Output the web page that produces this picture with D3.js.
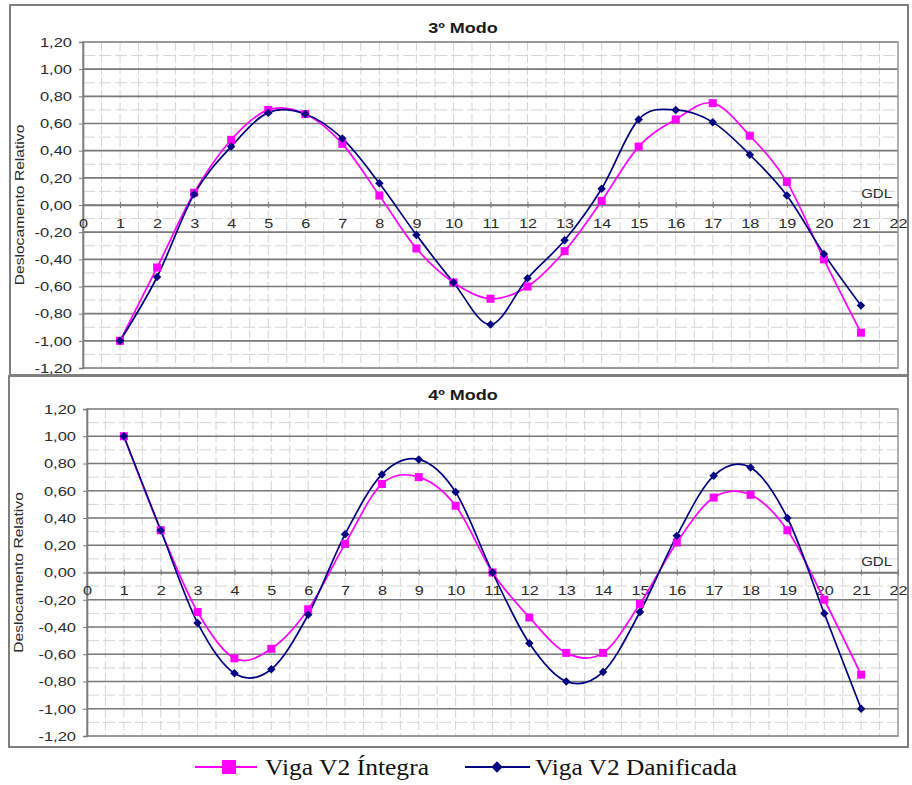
<!DOCTYPE html>
<html>
<head>
  <title>Modos</title>
  <script src="https://cdn.jsdelivr.net/npm/d3@7"></script>
  <style>
    body { margin: 0; background: #fff; }
  </style>
</head>
<body>
  <svg width="912" height="785" id="mainsvg"></svg>
  <script>
    const svg = d3.select('#mainsvg');
    const sans = 'Arial, "Liberation Sans", sans-serif';
    const serif = '"Liberation Serif", "Times New Roman", serif';

    // dados
    const gdl = d3.range(1, 22);
    const modo3Integra = [-1.00, -0.46, 0.09, 0.48, 0.70, 0.67, 0.45, 0.07, -0.32, -0.57, -0.69,
      -0.60, -0.34, 0.03, 0.43, 0.63, 0.75, 0.51, 0.17, -0.40, -0.94];
    const modo3Danificada = [-1.00, -0.53, 0.08, 0.43, 0.68, 0.67, 0.49, 0.16, -0.22, -0.57, -0.88,
      -0.54, -0.26, 0.12, 0.63, 0.70, 0.61, 0.37, 0.07, -0.36, -0.74];
    const modo4Integra = [1.00, 0.31, -0.29, -0.63, -0.56, -0.27, 0.21, 0.65, 0.70, 0.49, 0.00,
      -0.33, -0.59, -0.59, -0.23, 0.22, 0.55, 0.57, 0.31, -0.20, -0.75];
    const modo4Danificada = [1.00, 0.31, -0.37, -0.74, -0.71, -0.31, 0.28, 0.72, 0.83, 0.59, 0.00,
      -0.52, -0.80, -0.73, -0.29, 0.27, 0.71, 0.77, 0.40, -0.30, -1.00];
    const xTicks = d3.range(0, 23);
    const yTicks = d3.range(-1.2, 1.21, 0.2);
    const seriesNames = ['Viga V2 Íntegra', 'Viga V2 Danificada'];
    const colors = ['#ff00ff', '#000080'];

    const fmt = v => {
      const a = Math.abs(v) < 1e-9 ? 0 : v;
      return (a < 0 ? '-' : '') + Math.abs(a).toFixed(2).replace('.', ',');
    };

    // a imagem original esta esticada na horizontal
    function widen(sel, f) {
      sel.each(function () {
        const w = this.getComputedTextLength();
        d3.select(this).attr('textLength', w * f).attr('lengthAdjust', 'spacingAndGlyphs');
      });
    }

    function drawPanel(p) {
      // moldura
      svg.append('rect')
        .attr('x', p.frame[0]).attr('y', p.frame[1])
        .attr('width', p.frame[2]).attr('height', p.frame[3])
        .attr('fill', '#fff').attr('stroke', '#7f7f7f').attr('stroke-width', 2);

      const x = d3.scaleLinear().domain([0, 22]).range([p.left, p.right]);
      const y = d3.scaleLinear().domain([-1.2, 1.2]).range([p.bottom, p.top]);
      const g = svg.append('g');

      // grade secundaria
      g.selectAll('.minorv').data(d3.range(0, 22.01, 0.5)).join('line')
        .attr('x1', d => x(d)).attr('x2', d => x(d))
        .attr('y1', p.top).attr('y2', p.bottom)
        .attr('stroke', '#d4d4d4').attr('stroke-dasharray', '9,3');
      g.selectAll('.minorh').data(d3.range(-1.2, 1.21, 0.1)).join('line')
        .attr('x1', p.left).attr('x2', p.right)
        .attr('y1', d => y(d)).attr('y2', d => y(d))
        .attr('stroke', '#d4d4d4').attr('stroke-dasharray', '12,4');

      // grade principal
      g.selectAll('.major').data(yTicks).join('line')
        .attr('x1', p.left).attr('x2', p.right)
        .attr('y1', d => y(d)).attr('y2', d => y(d))
        .attr('stroke', '#7a7a7a').attr('stroke-width', 1.6);

      g.append('rect')
        .attr('x', p.left).attr('y', p.top)
        .attr('width', p.right - p.left).attr('height', p.bottom - p.top)
        .attr('fill', 'none').attr('stroke', '#9a9a9a').attr('stroke-width', 1.5);

      // eixo y
      const yAxis = g.append('g')
        .attr('transform', `translate(${p.left},0)`)
        .call(d3.axisLeft(y).tickValues(yTicks).tickFormat(fmt).tickSize(4).tickPadding(7));
      yAxis.select('.domain').attr('stroke', '#7a7a7a').attr('stroke-width', 1.6);
      yAxis.selectAll('.tick line').attr('stroke', '#7a7a7a');
      yAxis.selectAll('text').attr('font-size', 13.5).attr('fill', '#2a2a2a')
        .attr('font-family', sans).call(widen, 1.22);

      // eixo x (em y = 0)
      const xAxis = g.append('g')
        .attr('transform', `translate(0,${y(0)})`)
        .call(d3.axisBottom(x).tickValues(xTicks).tickSize(0).tickPadding(13));
      xAxis.select('.domain').attr('stroke', '#7a7a7a').attr('stroke-width', 1.6);
      xAxis.selectAll('.tick').append('line')
        .attr('y1', -3).attr('y2', 3).attr('stroke', '#7a7a7a');
      xAxis.selectAll('text').attr('font-size', 13.5).attr('fill', '#2a2a2a')
        .attr('font-family', sans).call(widen, 1.2);

      // titulos
      svg.append('text').attr('x', 463).attr('y', p.top - 9)
        .attr('text-anchor', 'middle').attr('font-size', 15).attr('font-weight', 'bold')
        .attr('font-family', sans).attr('fill', '#1a1a1a').text(p.title).call(widen, 1.2);
      svg.append('text').attr('x', p.right - 6).attr('y', y(0) - 7)
        .attr('text-anchor', 'end').attr('font-size', 12.5).attr('font-family', sans)
        .attr('fill', '#2a2a2a').text('GDL').call(widen, 1.2);
      svg.append('text')
        .attr('transform', `translate(${p.frame[0] + 14},${(p.top + p.bottom) / 2}) rotate(-90)`)
        .attr('text-anchor', 'middle').attr('font-size', 12.5).attr('font-family', sans)
        .attr('fill', '#2a2a2a').text('Deslocamento Relativo').call(widen, 1.25);

      // series
      const line = d3.line()
        .x((d, i) => x(gdl[i])).y(d => y(d))
        .curve(d3.curveCardinal.tension(0));
      const sets = [p.integra, p.danificada];
      sets.forEach((vals, k) => {
        g.append('path').datum(vals)
          .attr('d', line).attr('fill', 'none')
          .attr('stroke', colors[k]).attr('stroke-width', 1.7);
      });
      g.selectAll('.sq').data(p.integra).join('rect')
        .attr('x', (d, i) => x(gdl[i]) - 4).attr('y', d => y(d) - 4)
        .attr('width', 8).attr('height', 8).attr('fill', colors[0]);
      g.selectAll('.dm').data(p.danificada).join('rect')
        .attr('x', -3).attr('y', -3).attr('width', 6).attr('height', 6)
        .attr('transform', (d, i) => `translate(${x(gdl[i])},${y(d)}) rotate(45)`)
        .attr('fill', colors[1]);
    }

    drawPanel({
      frame: [10, 5, 898, 370], left: 83, right: 898, top: 42, bottom: 368,
      title: '3º Modo', integra: modo3Integra, danificada: modo3Danificada
    });
    drawPanel({
      frame: [9, 376, 899, 371], left: 87, right: 898, top: 409, bottom: 736,
      title: '4º Modo', integra: modo4Integra, danificada: modo4Danificada
    });

    // legenda
    const legend = svg.append('g');
    const legendItems = [
      { lx: 195, rx: 257, mx: 229, tx: 265, tw: 164 },
      { lx: 465, rx: 530, mx: 497, tx: 535, tw: 202 }
    ];
    legendItems.forEach((it, k) => {
      legend.append('line').attr('x1', it.lx).attr('x2', it.rx)
        .attr('y1', 767).attr('y2', 767)
        .attr('stroke', colors[k]).attr('stroke-width', 2);
      if (k === 0) {
        legend.append('rect').attr('x', it.mx - 7).attr('y', 760)
          .attr('width', 14).attr('height', 14).attr('fill', colors[0]);
      } else {
        legend.append('rect').attr('x', -4).attr('y', -4).attr('width', 8).attr('height', 8)
          .attr('transform', `translate(${it.mx},767) rotate(45)`).attr('fill', colors[1]);
      }
      legend.append('text').attr('x', it.tx).attr('y', 775)
        .style('font-family', serif)
        .attr('font-size', 23).attr('fill', '#111')
        .attr('textLength', it.tw).attr('lengthAdjust', 'spacingAndGlyphs')
        .text(seriesNames[k]);
    });
  </script>
</body>
</html>
